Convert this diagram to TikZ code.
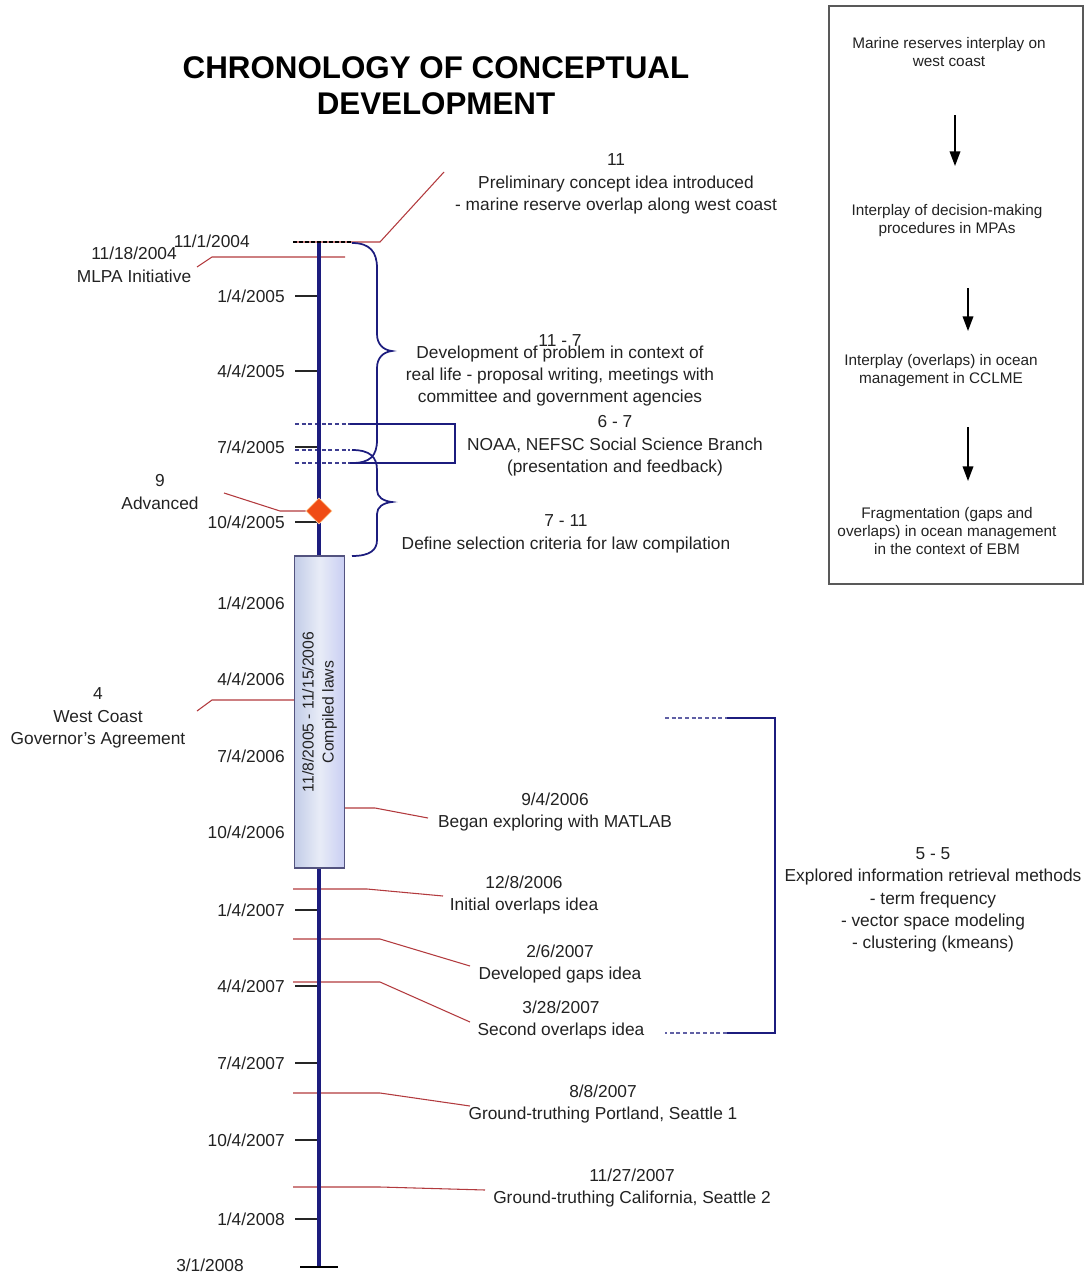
\documentclass[tikz,border=0pt]{standalone}
\usepackage{fontspec}
\setmainfont{Liberation Sans}
\usetikzlibrary{arrows.meta,shapes.geometric}

\definecolor{axisblue}{HTML}{1C1C7E}
\definecolor{leadred}{HTML}{B23A3E}
\definecolor{diamondorange}{HTML}{F04C14}
\definecolor{lawsdark}{HTML}{C2CCE8}
\definecolor{lawslight}{HTML}{E8ECF7}
\definecolor{inkgray}{HTML}{222222}

\tikzset{
  timeaxis/.style={axisblue, line width=2.4pt},
  tickline/.style={black!85, line width=0.8pt},
  leader/.style={leadred, line width=0.8pt},
  spanline/.style={axisblue, line width=1.3pt},
  spandash/.style={axisblue!85, line width=1.2pt, dash pattern=on 3pt off 2pt},
  datelbl/.style={anchor=east, text=inkgray, inner sep=0pt, font=\fontsize{13}{15}\selectfont},
  note/.style={align=center, text=inkgray, inner sep=0pt, font=\fontsize{13}{16.8}\selectfont},
  flowtxt/.style={align=center, text=inkgray, inner sep=0pt, font=\fontsize{11.5}{13.5}\selectfont},
  flowarrow/.style={black, line width=1.1pt, -{Triangle[width=8pt,length=11pt]}},
}

% a date tick on the left side of the time axis
\newcommand\datetick[3]{%
  \draw[tickline] (295,#1) -- (320,#1);
  \node[datelbl] (#2) at (285,#1) {#3};
}

\begin{document}
\begin{tikzpicture}[x=0.75pt,y=-0.75pt]
\useasboundingbox (0,0) rectangle (1088,1274);

% title
\node[align=center, text=black, font=\bfseries\fontsize{23.5}{27}\selectfont]
  (title) at (436,86) {CHRONOLOGY OF CONCEPTUAL\\DEVELOPMENT};

% ---------- red leader lines (drawn under the axis) ----------
\coordinate (axtop) at (319,242);
\coordinate (axbot) at (319,1267);

\coordinate (prelA) at (295,242);
\coordinate (prelB) at (380,242);
\coordinate (prelC) at (444,172);
\draw[leader] (prelA) -- (prelB) -- (prelC);

\coordinate (mlpaA) at (345,257);
\coordinate (mlpaB) at (212,257);
\coordinate (mlpaC) at (197,267);
\draw[leader] (mlpaA) -- (mlpaB) -- (mlpaC);

\coordinate (ovA) at (293,889);
\coordinate (ovB) at (367,889);
\coordinate (ovC) at (443,896);
\draw[leader] (ovA) -- (ovB) -- (ovC);

\coordinate (gpA) at (293,939);
\coordinate (gpB) at (380,939);
\coordinate (gpC) at (470,966);
\draw[leader] (gpA) -- (gpB) -- (gpC);

\coordinate (soA) at (293,982);
\coordinate (soB) at (380,982);
\coordinate (soC) at (470,1022);
\draw[leader] (soA) -- (soB) -- (soC);

\coordinate (ptA) at (293,1093);
\coordinate (ptB) at (380,1093);
\coordinate (ptC) at (470,1106);
\draw[leader] (ptA) -- (ptB) -- (ptC);

\coordinate (caA) at (293,1187);
\coordinate (caB) at (380,1187);
\coordinate (caC) at (485,1190);
\draw[leader] (caA) -- (caB) -- (caC);

% ---------- date ticks ----------
\datetick{296}{d1}{1/4/2005}
\datetick{371}{d2}{4/4/2005}
\datetick{447}{d3}{7/4/2005}
\datetick{522}{d4}{10/4/2005}
\datetick{603}{d5}{1/4/2006}
\datetick{679}{d6}{4/4/2006}
\datetick{756}{d7}{7/4/2006}
\datetick{832}{d8}{10/4/2006}
\datetick{910}{d9}{1/4/2007}
\datetick{986}{d10}{4/4/2007}
\datetick{1063}{d11}{7/4/2007}
\datetick{1140}{d12}{10/4/2007}
\datetick{1219}{d13}{1/4/2008}
\node[datelbl] (dstart) at (250,241) {11/1/2004};
\node[datelbl] (dend) at (244,1265) {3/1/2008};

% ---------- NOAA bracket and dashed markers ----------
\draw[spandash] (295,424) -- (350,424);
\draw[spandash] (295,450) -- (350,450);
\draw[spandash] (295,463) -- (350,463);
\draw[spanline] (350,424) -- (455,424) -- (455,463) -- (350,463);

% ---------- the time axis ----------
\draw[timeaxis] (axtop) -- (axbot);
\draw[black, line width=1pt, dash pattern=on 3pt off 1.5pt] (293,242) -- (352,242);
\draw[black, line width=1pt] (300,1267) -- (338,1267);

% ---------- braces ----------
\draw[spanline] (352,243) .. controls (370,243) and (377,252) .. (377,268)
  -- (377,334) .. controls (377,344) and (383,350) .. (392,351)
  .. controls (383,352) and (377,358) .. (377,368)
  -- (377,440) .. controls (377,456) and (370,463) .. (352,463);
\draw[spanline] (352,450) .. controls (370,450) and (377,457) .. (377,470)
  -- (377,490) .. controls (377,497) and (383,501) .. (392,502)
  .. controls (383,503) and (377,507) .. (377,514)
  -- (377,540) .. controls (377,550) and (370,556) .. (352,556);

% ---------- compiled laws bar ----------
\node[rotate=90, draw=axisblue!45!gray, line width=0.9pt,
  left color=lawsdark, right color=lawsdark!85!blue!60!white, middle color=lawslight,
  minimum width=234pt, minimum height=38pt, inner sep=0pt, align=center,
  text=inkgray, font=\fontsize{11.8}{15}\selectfont]
  (laws) at (319.5,712) {11/8/2005 - 11/15/2006\\Compiled laws};

% ---------- milestone diamond ----------
\node[diamond, fill=diamondorange, draw=orange!40, line width=0.6pt,
  minimum size=19.5pt, inner sep=0pt] (adv) at (319,511) {};

% leaders attached to the bar and the diamond
\coordinate (advB) at (280,511);
\coordinate (advC) at (224,493);
\draw[leader] (adv.west) -- (advB) -- (advC);

\coordinate (wcA) at (294,700);
\coordinate (wcB) at (212,700);
\coordinate (wcC) at (197,711);
\draw[leader] (wcA) -- (wcB) -- (wcC);

\coordinate (mtA) at (345,808);
\coordinate (mtB) at (375,808);
\coordinate (mtC) at (428,818);
\draw[leader] (mtA) -- (mtB) -- (mtC);

% ---------- event notes ----------
\node[note] (prel) at (616,184) {11\\Preliminary concept idea introduced\\- marine reserve overlap along west coast};
\node[note] (mlpa) at (134,265) {11/18/2004\\MLPA Initiative};
\node[note] (devnum) at (560,341) {11 - 7};
\node[note] (dev) at (560,376) {Development of problem in context of\\real life - proposal writing, meetings with\\committee and government agencies};
\node[note] (noaa) at (615,446) {6 - 7\\NOAA, NEFSC Social Science Branch\\(presentation and feedback)};
\node[note] (advtxt) at (160,492) {9\\Advanced};
\node[note] (crit) at (566,534) {7 - 11\\Define selection criteria for law compilation};
\node[note] (wcga) at (98,718) {4\\West Coast\\Governor's Agreement};
\node[note] (matlab) at (555,812) {9/4/2006\\Began exploring with MATLAB};
\node[note] (ovl) at (524,895) {12/8/2006\\Initial overlaps idea};
\node[note] (gaps) at (560,964) {2/6/2007\\Developed gaps idea};
\node[note] (sovl) at (561,1020) {3/28/2007\\Second overlaps idea};
\node[note] (port) at (603,1104) {8/8/2007\\Ground-truthing Portland, Seattle 1};
\node[note] (cali) at (632,1188) {11/27/2007\\Ground-truthing California, Seattle 2};

% ---------- information retrieval bracket ----------
\coordinate (irA) at (665,718);
\coordinate (irB) at (727,718);
\coordinate (irC) at (775,718);
\coordinate (irD) at (775,1033);
\coordinate (irE) at (727,1033);
\coordinate (irF) at (665,1033);
\draw[spandash, axisblue!70] (irA) -- (irB);
\draw[spandash, axisblue!70] (irE) -- (irF);
\draw[spanline] (irB) -- (irC) -- (irD) -- (irE);
\node[note] (ir) at (933,900) {5 - 5\\Explored information retrieval methods\\- term frequency\\- vector space modeling\\- clustering (kmeans)};

% ---------- concept flow panel ----------
\node[draw=black!65, line width=1.3pt, minimum width=190.5pt, minimum height=433.5pt,
  inner sep=0pt] (panel) at (956,295) {};
\node[flowtxt] (f1) at (949,52) {Marine reserves interplay on\\west coast};
\node[flowtxt] (f2) at (947,221) {Interplay of decision-making\\procedures in MPAs};
\node[flowtxt] (f3) at (941,371) {Interplay (overlaps) in ocean\\management in CCLME};
\node[flowtxt] (f4) at (947,531) {Fragmentation (gaps and\\overlaps) in ocean management\\in the context of EBM};

\coordinate (a1s) at (955,115);
\coordinate (a1e) at (955,166);
\coordinate (a2s) at (968,288);
\coordinate (a2e) at (968,331);
\coordinate (a3s) at (968,427);
\coordinate (a3e) at (968,481);
\draw[flowarrow] (a1s) -- (a1e);
\draw[flowarrow] (a2s) -- (a2e);
\draw[flowarrow] (a3s) -- (a3e);

\end{tikzpicture}
\end{document}
